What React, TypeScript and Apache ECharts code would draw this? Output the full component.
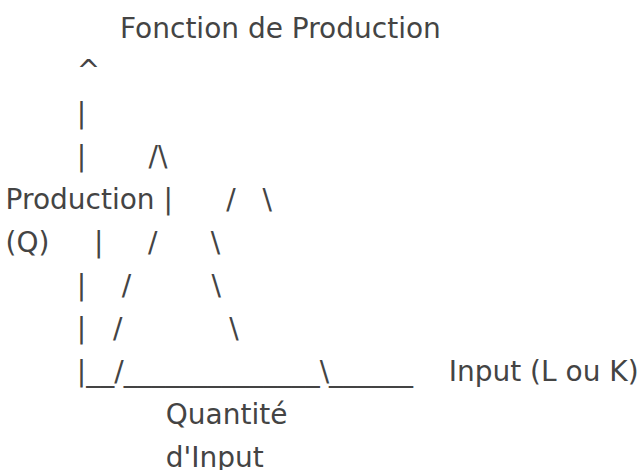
import React, { useEffect, useRef } from "react";
import * as echarts from "echarts";

const title = "Fonction de Production";
const artLines: string[] = [
  "        ^",
  "        |",
  "        |       /\\",
  "Production |      /   \\",
  "(Q)     |     /      \\",
  "        |    /         \\",
  "        |   /            \\",
  "        |__/______________\\______    Input (L ou K)",
  "                  Quantité",
  "                  d'Input",
];

const FONT = "'DejaVu Sans', sans-serif";
const SIZE = 28;
const COLOR = "#444";
const LEFT = 5.6;
const FIRST_Y = 70.7;
const PITCH = 43;

export default function App() {
  const ref = useRef<HTMLDivElement>(null);
  useEffect(() => {
    if (!ref.current) return;
    const chart = echarts.init(ref.current, undefined, { renderer: "svg" });
    const elements: any[] = [
      {
        type: "text",
        x: 120,
        y: 28.6,
        style: {
          text: title,
          fill: COLOR,
          font: `${SIZE}px ${FONT}`,
          align: "left",
          verticalAlign: "middle",
        },
      },
      ...artLines.map((line, i) => ({
        type: "text",
        x: LEFT,
        y: FIRST_Y + i * PITCH,
        style: {
          text: line,
          fill: COLOR,
          font: `${SIZE}px ${FONT}`,
          align: "left",
          verticalAlign: "middle",
        },
      })),
    ];
    chart.setOption({
      animation: false,
      backgroundColor: "#fff",
      graphic: { elements },
    });
    return () => chart.dispose();
  }, []);
  return (
    <div
      ref={ref}
      style={{ position: "absolute", left: 0, top: 0, width: 641, height: 470 }}
    />
  );
}
